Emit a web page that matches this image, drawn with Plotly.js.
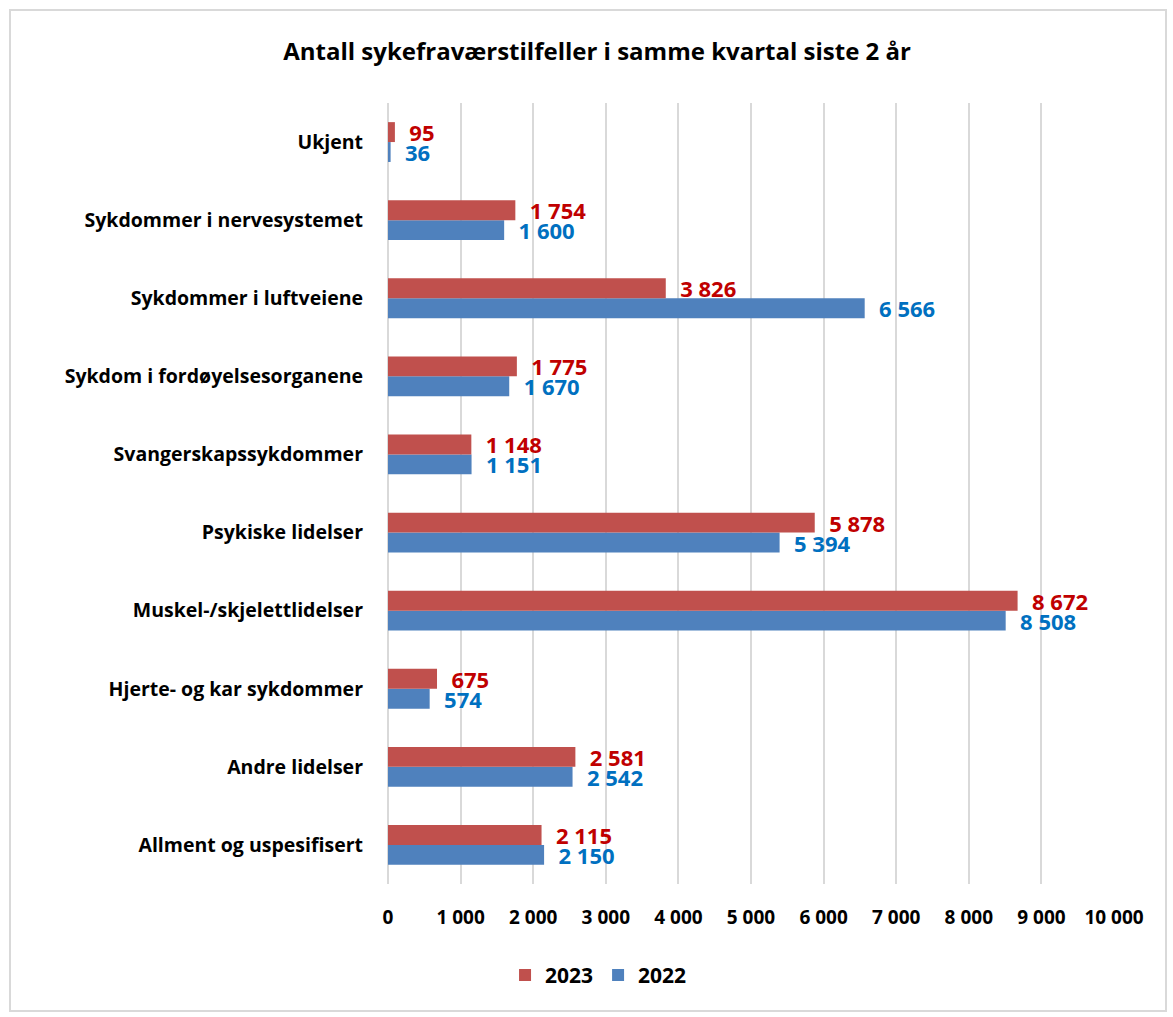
<!DOCTYPE html>
<html>
<head>
<meta charset="utf-8">
<script src="https://cdn.plot.ly/plotly-3.0.1.min.js"></script>
<style>
  body { margin: 0; background: #fff; }
  #plot { width: 1173px; height: 1017px; }
  #frame { position: absolute; left: 9px; top: 9px; width: 1154px; height: 999px;
           border: 2px solid #D9D9D9; pointer-events: none; }
</style>
</head>
<body>
<div id="plot"></div>
<div id="frame"></div>
<script>
const categories = [
  'Allment og uspesifisert',
  'Andre lidelser',
  'Hjerte- og kar sykdommer',
  'Muskel-/skjelettlidelser',
  'Psykiske lidelser',
  'Svangerskapssykdommer',
  'Sykdom i fordøyelsesorganene',
  'Sykdommer i luftveiene',
  'Sykdommer i nervesystemet',
  'Ukjent'
]
const values2023 = [2115, 2581, 675, 8672, 5878, 1148, 1775, 3826, 1754, 95]
const values2022 = [2150, 2542, 574, 8508, 5394, 1151, 1670, 6566, 1600, 36]

const font = '"Open Sans", Lato, sans-serif'

const trace2022 = {
  type: 'bar',
  orientation: 'h',
  name: '2022',
  y: categories,
  x: values2022,
  marker: {color: '#4F81BD'},
  texttemplate: '  %{x:,d}',
  textposition: 'outside',
  constraintext: 'none',
  cliponaxis: false,
  textfont: {family: font, size: 22, color: '#0070C0', weight: 'bold'},
  hoverinfo: 'x'
}
const trace2023 = {
  type: 'bar',
  orientation: 'h',
  name: '2023',
  y: categories,
  x: values2023,
  marker: {color: '#C0504D'},
  texttemplate: '  %{x:,d}',
  textposition: 'outside',
  constraintext: 'none',
  cliponaxis: false,
  textfont: {family: font, size: 22, color: '#C00000', weight: 'bold'},
  hoverinfo: 'x'
}

const layout = {
  width: 1173,
  height: 1017,
  separators: ', ',
  font: {family: font, color: '#000'},
  title: {
    text: '<b>Antall sykefraværstilfeller i samme kvartal siste 2 år</b>',
    font: {family: font, size: 24, color: '#000'},
    x: 0.509, xanchor: 'center', y: 0.949, yanchor: 'middle'
  },
  barmode: 'group',
  bargap: 0.49,
  bargroupgap: 0,
  margin: {l: 388, r: 59, t: 103, b: 133},
  xaxis: {
    range: [0, 10000],
    dtick: 1000,
    tickformat: ',d',
    showgrid: true,
    gridcolor: '#D9D9D9',
    gridwidth: 2,
    zeroline: true,
    zerolinecolor: '#D9D9D9',
    zerolinewidth: 2,
    showline: false,
    ticks: '',
    ticklabelstandoff: 20,
    tickfont: {family: font, size: 19, color: '#000', weight: 'bold'},
    fixedrange: true
  },
  yaxis: {
    type: 'category',
    ticks: '',
    showgrid: false,
    ticklabelstandoff: 24,
    tickfont: {family: font, size: 19.5, color: '#000', weight: 'bold'},
    fixedrange: true
  },
  legend: {
    orientation: 'h',
    traceorder: 'reversed',
    x: 0.29, xanchor: 'center',
    y: -0.117, yanchor: 'middle',
    font: {family: font, size: 21, color: '#000', weight: 'bold'},
    itemwidth: 30
  },
  showlegend: true,
  paper_bgcolor: '#fff',
  plot_bgcolor: '#fff'
}

Plotly.newPlot('plot', [trace2022, trace2023], layout, {displayModeBar: false})
</script>
</body>
</html>
